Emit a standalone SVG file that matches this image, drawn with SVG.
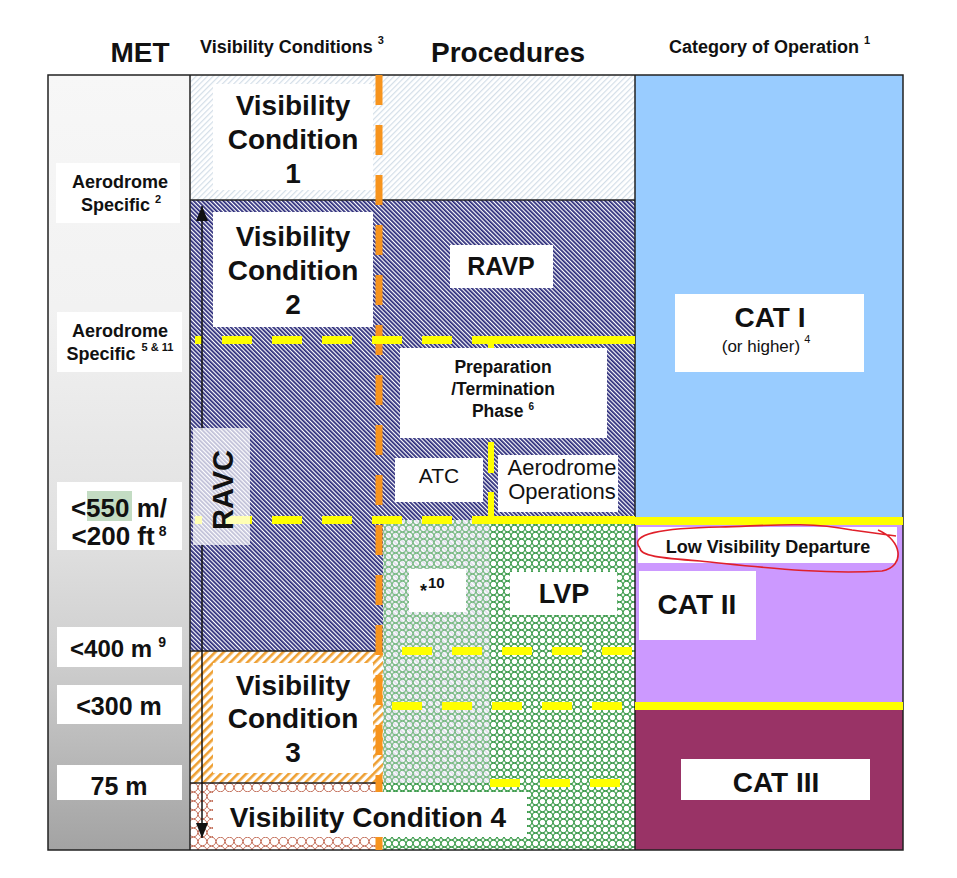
<svg xmlns="http://www.w3.org/2000/svg" width="957" height="878" viewBox="0 0 957 878">
<style>
text{font-family:"Liberation Sans",Arial,Helvetica,sans-serif;fill:#111}
.b{font-weight:bold}
.c{text-anchor:middle}
.box{fill:#fff}
.yl{stroke:#ffff00;stroke-width:8;fill:none}
.yd{stroke:#ffff00;stroke-width:8;fill:none;stroke-dasharray:30 20}
.yv{stroke:#ffff00;stroke-width:6;fill:none}
.edge{stroke:#222;stroke-width:1.5;fill:none}
.vc{font-size:28px;font-weight:bold}
.sup{font-size:11px}
</style>
<defs>
<linearGradient id="met" x1="0" y1="0" x2="0" y2="1">
<stop offset="0" stop-color="#f7f7f7"/>
<stop offset="0.3" stop-color="#f2f2f2"/>
<stop offset="0.6" stop-color="#e0e0e0"/>
<stop offset="0.75" stop-color="#cfcfcf"/>
<stop offset="1" stop-color="#a3a3a3"/>
</linearGradient>
<pattern id="navy" width="3" height="3" patternUnits="userSpaceOnUse" patternTransform="rotate(-45)"><rect width="3" height="3" fill="#fff"/><rect width="1.75" height="3" fill="#282878"/></pattern>
<pattern id="light" width="4" height="4" patternUnits="userSpaceOnUse" patternTransform="rotate(45)"><rect width="4" height="4" fill="#fff"/><rect width="1.2" height="4" fill="#d3dee8"/></pattern>
<pattern id="orange" width="6" height="6" patternUnits="userSpaceOnUse" patternTransform="rotate(45)"><rect width="6" height="6" fill="#fff"/><rect width="2.6" height="6" fill="#eea033"/></pattern>
<pattern id="green" width="7" height="7" patternUnits="userSpaceOnUse"><circle cx="3.5" cy="3.5" r="3.3" fill="none" stroke="#3a9a4a" stroke-width="1.05"/></pattern>
<pattern id="red" width="9" height="9" patternUnits="userSpaceOnUse"><circle cx="4.5" cy="4.5" r="4.3" fill="none" stroke="#c06650" stroke-width="1"/></pattern>
<marker id="ah" viewBox="0 0 15 12" refX="15" refY="6" markerWidth="15" markerHeight="12" markerUnits="userSpaceOnUse" orient="auto"><path d="M0,0 L15,6 L0,12 z" fill="#111"/></marker>
</defs>

<g id="regions">
<rect x="48" y="75" width="142" height="775" fill="url(#met)"/>
<rect x="190" y="75" width="445" height="125" fill="url(#light)"/>
<rect x="190" y="200" width="193" height="451" fill="url(#navy)"/>
<rect x="383" y="200" width="252" height="320" fill="url(#navy)"/>
<rect x="383" y="520" width="252" height="330" fill="#fff"/>
<rect x="383" y="520" width="107" height="263" fill="url(#navy)" opacity="0.22"/>
<rect x="383" y="520" width="252" height="330" fill="url(#green)"/>
<rect x="383" y="520" width="107" height="263" fill="#fff" opacity="0.3"/>
<rect x="190" y="651" width="193" height="132" fill="url(#orange)"/>
<rect x="190" y="783" width="193" height="67" fill="#fff"/>
<rect x="190" y="783" width="193" height="67" fill="url(#red)"/>
<rect x="635" y="75" width="268" height="446" fill="#99ccff"/>
<rect x="635" y="521" width="268" height="185" fill="#cc99ff"/>
<rect x="635" y="706" width="268" height="144" fill="#993366"/>
</g>

<g id="edges">
<rect x="48" y="75" width="855" height="775" class="edge"/>
<line x1="190" y1="75" x2="190" y2="850" class="edge"/>
<line x1="635" y1="75" x2="635" y2="850" class="edge"/>
<line x1="190" y1="200" x2="635" y2="200" class="edge"/>
<line x1="190" y1="651" x2="383" y2="651" class="edge" stroke-width="1"/>
<line x1="190" y1="783" x2="383" y2="783" class="edge" stroke-width="1"/>
</g>

<g id="dividers">
<line x1="379" y1="75" x2="379" y2="850" stroke="#f7941d" stroke-width="7" stroke-dasharray="30 20"/>
<line x1="195" y1="340" x2="476" y2="340" class="yd" stroke-dashoffset="23"/>
<line x1="476" y1="340" x2="635" y2="340" class="yl"/>
<line x1="491" y1="340" x2="491" y2="352" class="yv"/>
<line x1="491" y1="442" x2="491" y2="473" class="yv"/>
<line x1="491" y1="492" x2="491" y2="520" class="yv"/>
<line x1="195" y1="520" x2="473" y2="520" class="yd" stroke-dashoffset="23"/>
<line x1="473" y1="520" x2="635" y2="520" class="yl"/>
<line x1="635" y1="521" x2="903" y2="521" class="yl" stroke-width="7"/>
<line x1="402" y1="651" x2="635" y2="651" class="yd"/>
<line x1="392" y1="706" x2="635" y2="706" class="yd"/>
<line x1="635" y1="706" x2="903" y2="706" class="yl" stroke-width="7"/>
<line x1="490" y1="783" x2="625" y2="783" class="yd" stroke-dasharray="30 22"/>
</g>

<g id="connectors">
<line x1="202" y1="430" x2="202" y2="206" stroke="#111" stroke-width="1.5" marker-end="url(#ah)"/>
<line x1="202" y1="545" x2="202" y2="838" stroke="#111" stroke-width="1.5" marker-end="url(#ah)"/>
</g>

<g id="headers">
<text x="140" y="62" class="b c" font-size="28">MET</text>
<text x="200" y="53" class="b" font-size="18">Visibility Conditions<tspan class="sup" dx="5" dy="-9">3</tspan></text>
<text x="508" y="62" class="b c" font-size="28">Procedures</text>
<text x="669" y="53" class="b" font-size="18">Category of Operation<tspan class="sup" dx="5" dy="-9">1</tspan></text>
</g>

<g id="met-aerodrome-2">
<rect x="56" y="163" width="124" height="60" class="box"/>
<text x="120" y="188" class="b c" font-size="18">Aerodrome</text>
<text x="121" y="211" class="b c" font-size="18">Specific<tspan class="sup" dx="5" dy="-8">2</tspan></text>
</g>
<g id="met-aerodrome-5-11">
<rect x="57" y="312" width="125" height="60" class="box"/>
<text x="120" y="337" class="b c" font-size="18">Aerodrome</text>
<text x="120" y="360" class="b c" font-size="18">Specific<tspan class="sup" dx="6" dy="-9">5 &amp; 11</tspan></text>
</g>
<g id="met-550">
<rect x="57" y="482" width="125" height="68" class="box"/>
<rect x="87" y="491" width="45" height="30" fill="#c3dcc3"/>
<text x="119" y="517" class="b c" font-size="26">&lt;550 m/</text>
<text x="119" y="545" class="b c" font-size="26">&lt;200 ft<tspan font-size="14" dx="4" dy="-9">8</tspan></text>
</g>
<g id="met-400">
<rect x="57" y="627" width="125" height="40" class="box"/>
<text x="118" y="657" class="b c" font-size="24">&lt;400 m<tspan font-size="14" dx="6" dy="-10">9</tspan></text>
</g>
<g id="met-300">
<rect x="57" y="685" width="125" height="39" class="box"/>
<text x="119" y="715" class="b c" font-size="25">&lt;300 m</text>
</g>
<g id="met-75">
<rect x="57" y="765" width="125" height="35" class="box"/>
<text x="119" y="795" class="b c" font-size="25">75 m</text>
</g>

<g id="vc1">
<rect x="213" y="84" width="160" height="106" class="box"/>
<text x="293" y="115" class="vc c">Visibility</text>
<text x="293" y="149" class="vc c">Condition</text>
<text x="293" y="183" class="vc c">1</text>
</g>
<g id="vc2">
<rect x="213" y="212" width="160" height="115" class="box"/>
<text x="293" y="246" class="vc c">Visibility</text>
<text x="293" y="280" class="vc c">Condition</text>
<text x="293" y="314" class="vc c">2</text>
</g>
<g id="vc3">
<rect x="213" y="663" width="160" height="110" class="box"/>
<text x="293" y="695" class="vc c">Visibility</text>
<text x="293" y="728" class="vc c">Condition</text>
<text x="293" y="762" class="vc c">3</text>
</g>
<g id="vc4">
<rect x="213" y="792" width="314" height="45" class="box"/>
<text x="368" y="827" class="vc c">Visibility Condition 4</text>
</g>
<g id="ravc">
<rect x="193" y="428" width="57" height="117" fill="#fff" opacity="0.7"/>
<text transform="translate(233,490) rotate(-90)" class="b c" font-size="29">RAVC</text>
</g>

<g id="ravp">
<rect x="450" y="245" width="103" height="43" class="box"/>
<text x="501" y="275" class="b c" font-size="25">RAVP</text>
</g>
<g id="prep">
<rect x="400" y="348" width="207" height="90" class="box"/>
<text x="503" y="373" class="b c" font-size="17.5">Preparation</text>
<text x="503" y="395" class="b c" font-size="17.5">/Termination</text>
<text x="503" y="417" class="b c" font-size="17.5">Phase<tspan font-size="10" dx="5" dy="-7">6</tspan></text>
</g>
<g id="atc">
<rect x="395" y="458" width="88" height="44" class="box"/>
<text x="439" y="483" class="c" font-size="21">ATC</text>
</g>
<g id="aerodrome-ops">
<rect x="498" y="455" width="120" height="57" class="box"/>
<text x="562" y="475" class="c" font-size="22">Aerodrome</text>
<text x="562" y="499" class="c" font-size="22">Operations</text>
</g>
<g id="note10">
<rect x="409" y="569" width="57" height="43" class="box"/>
<text x="420" y="597" class="b" font-size="18">*<tspan font-size="15" dx="1" dy="-9">10</tspan></text>
</g>
<g id="lvp">
<rect x="510" y="572" width="107" height="43" class="box"/>
<text x="564" y="603" class="b c" font-size="27">LVP</text>
</g>

<g id="cat1">
<rect x="675" y="294" width="189" height="78" class="box"/>
<text x="770" y="327" class="b c" font-size="28">CAT I</text>
<text x="766" y="352" class="c" font-size="17">(or higher)<tspan class="sup" dx="4" dy="-9">4</tspan></text>
</g>
<g id="lvd">
<rect x="638" y="527" width="259" height="36" class="box"/>
<text x="768" y="553" class="b c" font-size="18">Low Visibility Departure</text>
<path d="M640,548 C628,534 662,528 720,527 C765,526 805,521 852,530 L896,536 M878,530 C902,540 906,566 882,571 C822,575 760,567 700,561 C660,558 640,556 640,548" fill="none" stroke="#e0202a" stroke-width="1.6"/>
</g>
<g id="cat2">
<rect x="639" y="571" width="117" height="69" class="box"/>
<text x="697" y="614" class="b c" font-size="28">CAT II</text>
</g>
<g id="cat3">
<rect x="681" y="759" width="189" height="41" class="box"/>
<text x="776" y="792" class="b c" font-size="28">CAT III</text>
</g>
</svg>
